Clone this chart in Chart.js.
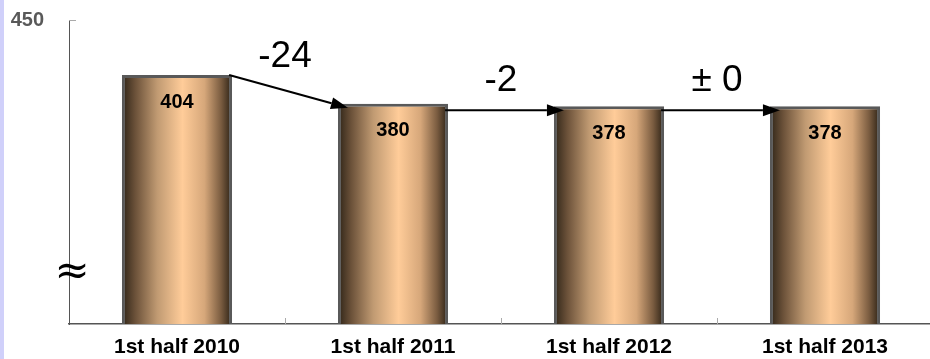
<!DOCTYPE html>
<html>
<head>
<meta charset="utf-8">
<script src="https://cdn.jsdelivr.net/npm/chart.js@4/dist/chart.umd.min.js"></script>
<style>
  html, body { margin: 0; padding: 0; background: #fff; overflow: hidden; }
  #strip { position: absolute; left: 0; top: 0; width: 4px; height: 359px; background: #d0d0fa; z-index: 2; }
  canvas { display: block; }
</style>
</head>
<body>
<div id="strip"></div>
<canvas id="chart" width="933" height="359"></canvas>
<script>
// datos del gráfico
const categories = ['1st half 2010', '1st half 2011', '1st half 2012', '1st half 2013'];
const values = [404, 380, 378, 378];
const changeLabels = ['-24', '-2', '± 0'];
const yTicks = [450];

const barPct = 0.51;

// degradado horizontal de cada barra (oscuro - melocotón - oscuro)
function barGradient(context) {
    const chart = context.chart;
    if (!chart.chartArea) return '#d9a877';
    const xs = chart.scales.x;
    const cx = xs.getPixelForValue(context.dataIndex);
    const half = (xs.width / categories.length) * barPct / 2;
    const g = chart.ctx.createLinearGradient(cx - half, 0, cx + half, 0);
    g.addColorStop(0, '#2e2417');
    g.addColorStop(0.12, '#6b5139');
    g.addColorStop(0.32, '#c09a72');
    g.addColorStop(0.55, '#ffcc99');
    g.addColorStop(0.75, '#d6a77a');
    g.addColorStop(0.9, '#7a5c40');
    g.addColorStop(1, '#2a2014');
    return g;
}

// marcas pequeñas dentro del área y símbolo de eje cortado
const axisMarks = {
    id: 'axisMarks',
    afterDatasetsDraw(chart) {
        const ctx = chart.ctx;
        const xs = chart.scales.x;
        const ys = chart.scales.y;
        const area = chart.chartArea;
        ctx.save();
        ctx.strokeStyle = '#aaaaaa';
        ctx.lineWidth = 1;
        for (let i = 0; i < categories.length - 1; i++) {
            const x = Math.round((xs.getPixelForValue(i) + xs.getPixelForValue(i + 1)) / 2) + 0.5;
            ctx.beginPath();
            ctx.moveTo(x, area.bottom - 6);
            ctx.lineTo(x, area.bottom);
            ctx.stroke();
        }
        yTicks.forEach(v => {
            const y = Math.round(ys.getPixelForValue(v)) + 0.5;
            ctx.beginPath();
            ctx.moveTo(area.left, y);
            ctx.lineTo(area.left + 7, y);
            ctx.stroke();
        });
        // ≈ sobre el eje Y
        ctx.fillStyle = '#000';
        ctx.font = '42px "DejaVu Serif"';
        ctx.textAlign = 'center';
        ctx.textBaseline = 'middle';
        ctx.fillText('≈', area.left + 3, area.bottom - 51);
        ctx.restore();
    }
};

// valores dentro de las barras, flechas y diferencias
const barNotes = {
    id: 'barNotes',
    afterDatasetsDraw(chart) {
        const ctx = chart.ctx;
        const meta = chart.getDatasetMeta(0);
        ctx.save();
        ctx.fillStyle = '#000';
        ctx.textAlign = 'center';
        ctx.textBaseline = 'middle';
        ctx.font = 'bold 20px "Liberation Sans", Arial';
        meta.data.forEach((bar, i) => {
            ctx.fillText(String(values[i]), bar.x, bar.y + 27);
        });

        ctx.strokeStyle = '#000';
        ctx.lineWidth = 2;
        for (let i = 0; i < meta.data.length - 1; i++) {
            const bar = meta.data[i];
            const next = meta.data[i + 1];
            const x1 = bar.x + bar.width / 2 - 3;
            let y1 = bar.y;
            const x2 = next.x - next.width / 2 + 10;
            const y2 = next.y + 4;
            if (y2 - y1 < 10) y1 = y2;
            const ang = Math.atan2(y2 - y1, x2 - x1);
            const headLen = 17, headW = 6;
            const bx = x2 - headLen * Math.cos(ang);
            const by = y2 - headLen * Math.sin(ang);
            ctx.beginPath();
            ctx.moveTo(x1, y1);
            ctx.lineTo(bx, by);
            ctx.stroke();
            ctx.beginPath();
            ctx.moveTo(x2, y2);
            ctx.lineTo(bx - headW * Math.sin(ang), by + headW * Math.cos(ang));
            ctx.lineTo(bx + headW * Math.sin(ang), by - headW * Math.cos(ang));
            ctx.closePath();
            ctx.fill();

            // etiqueta de la diferencia sobre la flecha
            ctx.font = '37px "Liberation Sans", Arial';
            ctx.textBaseline = 'alphabetic';
            ctx.fillText(changeLabels[i], (bar.x + next.x) / 2, Math.min(bar.y - 8, y2 - 19));
            ctx.textBaseline = 'middle';
        }
        ctx.restore();
    }
};

new Chart(document.getElementById('chart'), {
    type: 'bar',
    data: {
        labels: categories,
        datasets: [{
            data: values,
            backgroundColor: barGradient,
            borderColor: '#595959',
            borderWidth: 3,
            borderSkipped: false,
            barPercentage: barPct,
            categoryPercentage: 1
        }]
    },
    options: {
        responsive: false,
        animation: false,
        layout: { padding: { top: 20, right: 0, bottom: 0, left: 0 } },
        plugins: {
            legend: { display: false },
            tooltip: { enabled: false }
        },
        scales: {
            x: {
                offset: true,
                grid: { display: false, drawTicks: false },
                border: { display: true, color: '#555555', width: 1.5 },
                ticks: {
                    color: '#000',
                    font: { family: '"Liberation Sans", Arial', size: 21, weight: 'bold' },
                    padding: 11,
                    maxRotation: 0,
                    autoSkip: false
                },
                afterFit: s => { s.height = 35; }
            },
            y: {
                min: 196,
                max: 450,
                afterBuildTicks: s => { s.ticks = yTicks.map(v => ({ value: v })); },
                grid: { display: false, drawTicks: false },
                border: { display: true, color: '#555555', width: 1 },
                ticks: {
                    color: '#595959',
                    font: { family: '"Liberation Sans", Arial', size: 20, weight: 'bold' },
                    padding: 25
                },
                // el padding de la etiqueta no debe empujar el área del gráfico
                afterFit: s => { s.width = 69; s.paddingTop = 0; s.paddingBottom = 0; }
            }
        }
    },
    plugins: [axisMarks, barNotes]
});
</script>
</body>
</html>
